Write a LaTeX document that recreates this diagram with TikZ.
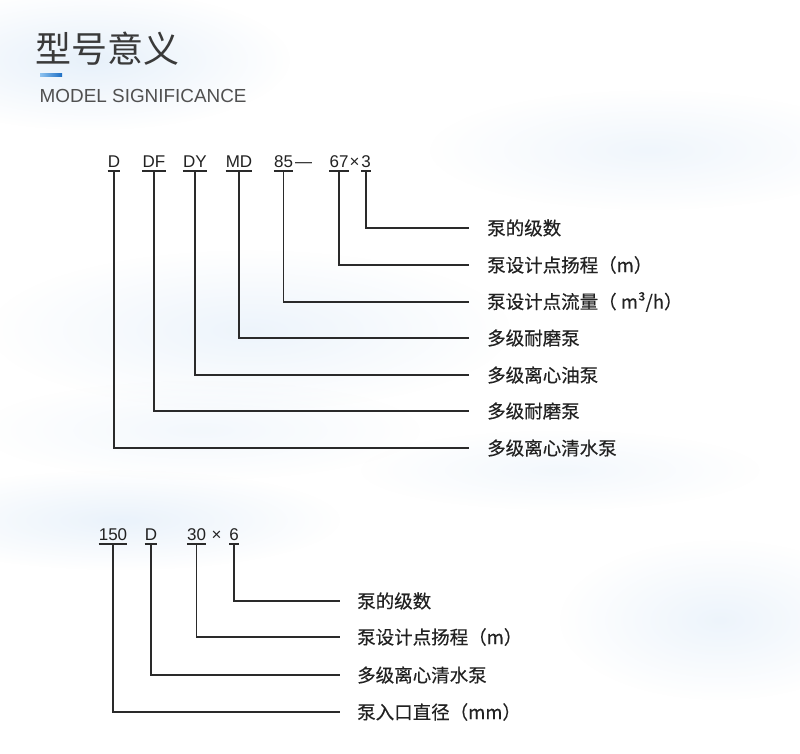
\documentclass[tikz,border=0pt]{standalone}
\usepackage{fontspec}
\setmainfont{Liberation Sans}
\newfontfamily\cjk{Noto Sans CJK SC}
\newfontfamily\cjklab{Noto Sans CJK SC}[BoldFont=Noto Sans CJK SC, BoldFeatures={FakeBold=0.35}]
\usetikzlibrary{fadings,calc}
\definecolor{ink}{HTML}{222222}
\definecolor{linec}{HTML}{2A2A2A}
\definecolor{titlec}{HTML}{3A3A3A}
\definecolor{subc}{HTML}{505050}
\definecolor{bgblue}{RGB}{218,233,248}
\definecolor{barL}{HTML}{8EC3F0}
\definecolor{barR}{HTML}{1E6FC4}
\tikzfading[name=fuzzy, inner color=transparent!20, outer color=transparent!100]
\tikzset{
  code/.style={anchor=base, inner sep=0pt, font=\fontsize{17}{17}\selectfont, text=ink},
  lab/.style={anchor=west, inner xsep=18pt, inner ysep=0pt, font=\cjklab\bfseries\fontsize{18.5}{18.5}\selectfont, text=ink},
  labb/.style={lab, inner xsep=17pt},
  conn/.style={draw=linec, line width=1.2pt},
  uline/.style={draw=linec, line width=1.2pt},
  blob/.style={fill=bgblue, path fading=fuzzy}
}
\begin{document}
\begin{tikzpicture}[x=1pt,y=-1pt]
\useasboundingbox (0,0) rectangle (800,753);
\fill[white] (0,0) rectangle (800,753);
% background wash
\fill[blob, opacity=0.8] (90,60) ellipse (200 and 70);
\fill[blob, opacity=0.5] (650,150) ellipse (220 and 60);
\fill[blob, opacity=0.6] (250,330) ellipse (260 and 80);
\fill[blob, opacity=0.4] (200,430) ellipse (220 and 50);
\fill[blob, opacity=0.7] (120,520) ellipse (220 and 50);
\fill[blob, opacity=0.6] (720,620) ellipse (160 and 80);
\fill[blob, opacity=0.4] (560,470) ellipse (200 and 40);
% title
\node[anchor=west, inner sep=0pt, font=\cjk\fontsize{36}{36}\selectfont, text=titlec] (title) at (35,49) {型号意义};
\fill[left color=barL, right color=barR] (40,73) rectangle (62,76);
\node[anchor=base west, inner sep=0pt, font=\fontsize{18.9}{18.9}\selectfont, text=subc] (sub) at (39.5,102) {MODEL SIGNIFICANCE};
% top code
\node[code] (cD) at (114,167) {D};
\node[code] (cDF) at (154,167) {DF};
\node[code] (cDY) at (195,167) {DY};
\node[code] (cMD) at (239,167) {MD};
\node[code] (c85) at (283.5,167) {85};
\node[code] (cdash) at (303.5,167) {—};
\node[code] (c67) at (339,167) {67};
\node[code] (cx) at (354.5,167) {×};
\node[code] (c3) at (366,167) {3};
\foreach \n in {cD,cDF,cDY,cMD,c85,c67,c3}{
  \draw[uline] ([yshift=-4pt]\n.base west) -- ([yshift=-4pt]\n.base east);
  \coordinate (u\n) at ([yshift=-4pt]\n.base);
}
% top labels
\node[lab] (l3) at (469,228) {泵的级数};
\node[lab] (l67) at (469,265) {泵设计点扬程（m）};
\node[lab] (l85) at (469,302) {泵设计点流量（ m³/h）};
\node[lab] (lMD) at (469,338) {多级耐磨泵};
\node[lab] (lDY) at (469,375) {多级离心油泵};
\node[lab] (lDF) at (469,411) {多级耐磨泵};
\node[lab] (lD) at (469,448) {多级离心清水泵};
\draw[conn] (uc3) |- (l3.west);
\draw[conn] (uc67) |- (l67.west);
\draw[conn] (uc85) |- (l85.west);
\draw[conn] (ucMD) |- (lMD.west);
\draw[conn] (ucDY) |- (lDY.west);
\draw[conn] (ucDF) |- (lDF.west);
\draw[conn] (ucD) |- (lD.west);
% bottom code
\node[code] (b150) at (113,540) {150};
\node[code] (bD) at (151,540) {D};
\node[code] (b30) at (196.5,540) {30};
\node[code] (bx) at (216.5,540) {×};
\node[code] (b6) at (234,540) {6};
\foreach \n in {b150,bD,b30,b6}{
  \draw[uline] ([yshift=-4pt]\n.base west) -- ([yshift=-4pt]\n.base east);
  \coordinate (u\n) at ([yshift=-4pt]\n.base);
}
\node[labb] (m6) at (340,601) {泵的级数};
\node[labb] (m30) at (340,637) {泵设计点扬程（m）};
\node[labb] (mD) at (340,675) {多级离心清水泵};
\node[labb] (m150) at (340,712) {泵入口直径（mm）};
\draw[conn] (ub6) |- (m6.west);
\draw[conn] (ub30) |- (m30.west);
\draw[conn] (ubD) |- (mD.west);
\draw[conn] (ub150) |- (m150.west);
\end{tikzpicture}
\end{document}
